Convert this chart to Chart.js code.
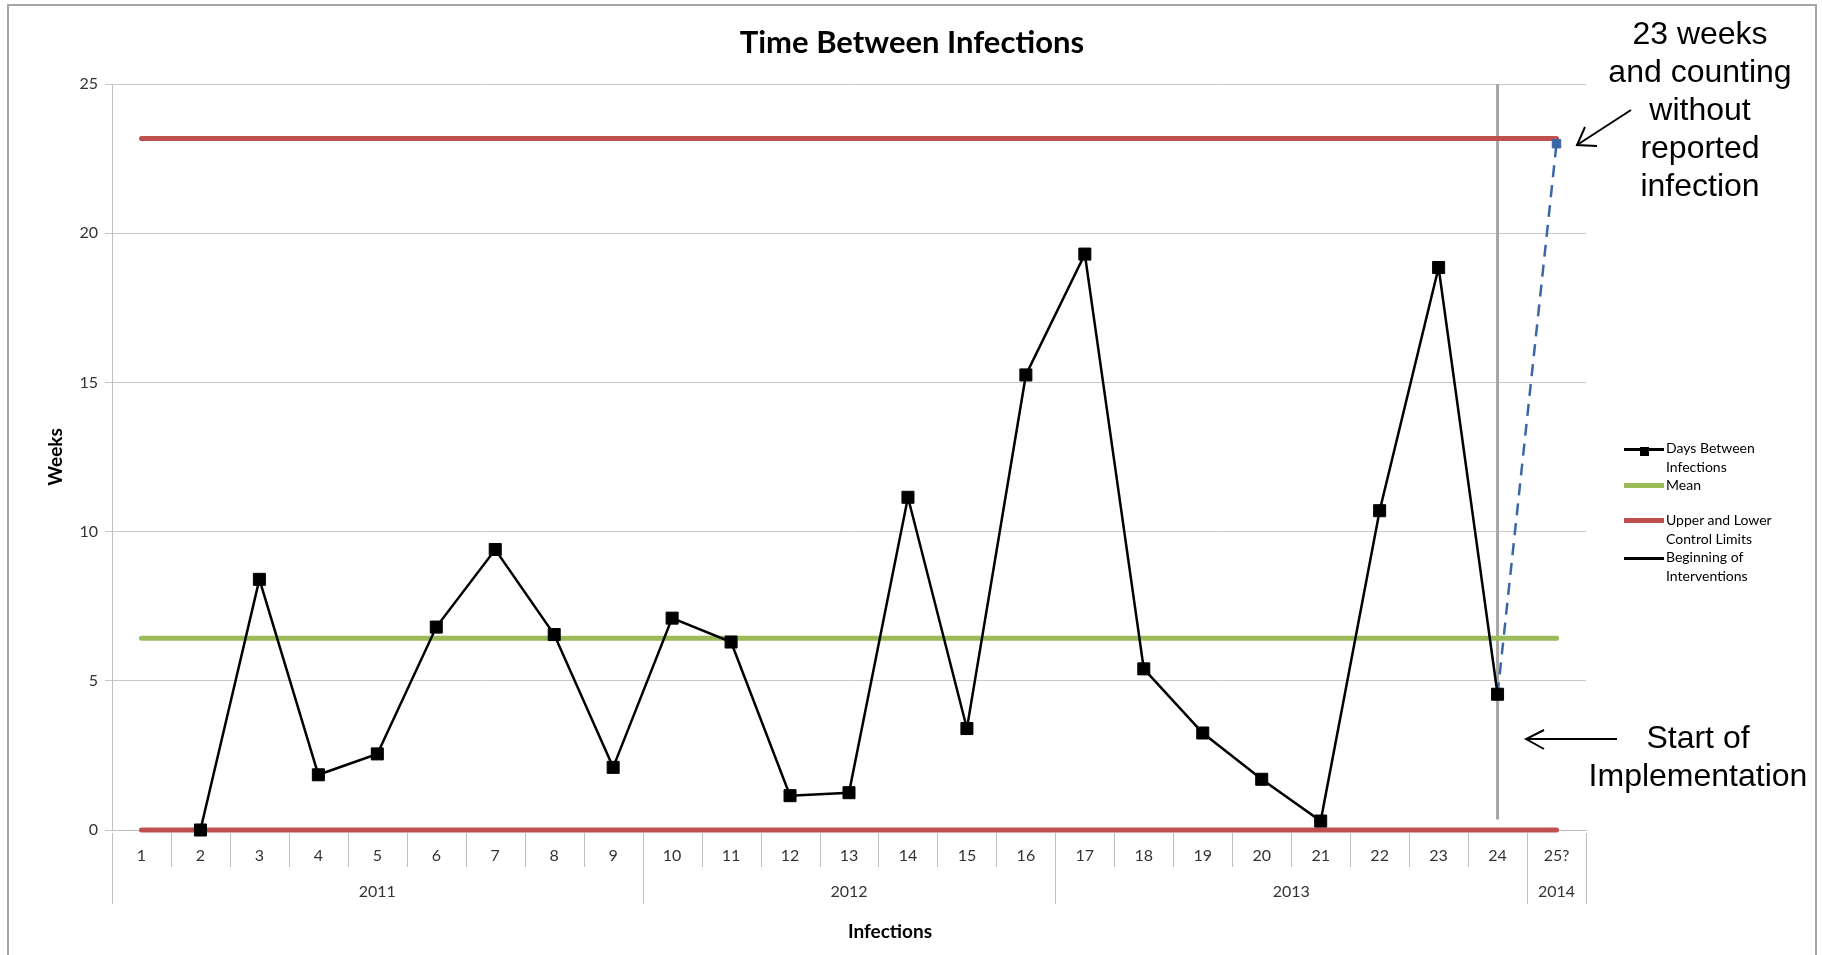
<!DOCTYPE html>
<html>
<head>
<meta charset="utf-8">
<title>Time Between Infections</title>
<script src="https://cdn.jsdelivr.net/npm/chart.js@4.4.1/dist/chart.umd.min.js"></script>
<style>
  html, body { margin: 0; padding: 0; background: #fff; overflow: hidden; }
  #wrap { position: relative; width: 1822px; height: 955px; }
  #frame { position: absolute; left: 7px; top: 4px; width: 1806px; height: 1000px; border: 2px solid #a6a6a6; }
  canvas { position: absolute; left: 0; top: 0; }
  .txt { position: absolute; white-space: nowrap; color: #000; }
  #title { left: 912px; top: 41px; transform: translate(-50%, -50%); font: bold 31px Lato, sans-serif; }
  #xtitle { left: 890px; top: 930px; transform: translate(-50%, -50%); font: bold 19px Lato, sans-serif; }
  .note { font: 32px "Liberation Sans", Arial, sans-serif; text-align: center; line-height: 38px; transform: translateX(-50%); }
  #legend { position: absolute; left: 1624px; top: 439px; font: 14px Lato, sans-serif; line-height: 18.5px; color: #000; }
  #legend .item { position: relative; padding-left: 42px; margin-bottom: 0; }
  #legend .swatch { position: absolute; left: 0; top: 9px; width: 40px; }
  #legend .dot { position: absolute; left: 16px; top: -4px; width: 9px; height: 9px; background: #000; }
</style>
</head>
<body>
<div id="wrap">
  <div id="frame"></div>
  <canvas id="myChart" width="1822" height="955"></canvas>
  <div class="txt" id="title">Time Between Infections</div>
  <div class="txt" id="xtitle">Infections</div>
  <div class="txt note" style="left:1700px; top:14px;">23 weeks<br>and counting<br>without<br>reported<br>infection</div>
  <div class="txt note" style="left:1698px; top:718px;">Start of<br>Implementation</div>
  <svg width="1822" height="955" style="position:absolute; left:0; top:0;">
    <g stroke="#000" stroke-width="2" fill="none">
      <line x1="1631" y1="110" x2="1577" y2="145" />
      <polyline points="1585,127 1577,145 1597,146" />
      <line x1="1617" y1="739" x2="1526" y2="739" />
      <polyline points="1544,730 1526,739 1544,749" />
    </g>
  </svg>
  <div id="legend">
    <div class="item" style="height:37px;"><div class="swatch" style="border-top:3px solid #000;"><div class="dot"></div></div>Days Between<br>Infections</div>
    <div class="item" style="height:35px;"><div class="swatch" style="border-top:5px solid #9bbb59; top:7px;"></div>Mean</div>
    <div class="item" style="height:37px;"><div class="swatch" style="border-top:5px solid #c0504d; top:7px;"></div>Upper and Lower<br>Control Limits</div>
    <div class="item"><div class="swatch" style="border-top:3px solid #000;"></div>Beginning of<br>Interventions</div>
  </div>
</div>

<script>
/* data */
const infections = ['1', '2', '3', '4', '5', '6', '7', '8', '9', '10', '11', '12', '13',
  '14', '15', '16', '17', '18', '19', '20', '21', '22', '23', '24', '25?'];
const years = ['2011', '2012', '2013', '2014'];
const yearSpans = [9, 7, 8, 1];
const weeksBetween = [null, 0, 8.4, 1.85, 2.55, 6.8, 9.4, 6.55, 2.1, 7.1, 6.3, 1.15, 1.25,
  11.15, 3.4, 15.25, 19.3, 5.4, 3.25, 1.7, 0.3, 10.7, 18.85, 4.55, null];
const projected = [null, null, null, null, null, null, null, null, null, null, null, null, null,
  null, null, null, null, null, null, null, null, null, null, 4.55, 23];
const meanValue = 6.43;
const upperLimit = 23.17;
const lowerLimit = 0;
const interventionStart = '24';
const interventionSpan = [25, 0.35];

const meanLine = infections.map(() => meanValue);
const upperLine = infections.map(() => upperLimit);
const lowerLine = infections.map(() => lowerLimit);

/* year row under the category labels */
const yearRow = {
  id: 'yearRow',
  afterDraw(chart) {
    const ctx = chart.ctx;
    const xs = chart.scales.x;
    const y0 = chart.chartArea.bottom;
    const step = xs.getPixelForValue(1) - xs.getPixelForValue(0);
    const edge = (i) => xs.getPixelForValue(0) - step / 2 + i * step;
    const groupEnds = [];
    let n = 0;
    yearSpans.forEach((s) => { n += s; groupEnds.push(n); });

    ctx.save();
    ctx.strokeStyle = '#bfbfbf';
    ctx.lineWidth = 1;
    for (let i = 0; i <= infections.length; i++) {
      const long = i === 0 || groupEnds.includes(i);
      const x = Math.round(edge(i)) + 0.5;
      ctx.beginPath();
      ctx.moveTo(x, y0 + 3);
      ctx.lineTo(x, y0 + (long ? 74 : 37));
      ctx.stroke();
    }
    ctx.fillStyle = '#333';
    ctx.font = '16px Lato, sans-serif';
    ctx.textAlign = 'center';
    ctx.textBaseline = 'middle';
    let start = 0;
    years.forEach((yr, k) => {
      const mid = (edge(start) + edge(start + yearSpans[k])) / 2;
      ctx.fillText(yr, mid, y0 + 62);
      start += yearSpans[k];
    });
    ctx.restore();
  }
};

let ctx = document.querySelector('#myChart').getContext('2d');
let myChart = new Chart(ctx, {
  type: 'line',
  data: {
    labels: infections,
    datasets: [
      {
        label: 'Beginning of Interventions',
        data: interventionSpan.map((v) => ({ x: interventionStart, y: v })),
        borderColor: '#a6a6a6',
        borderWidth: 3,
        pointRadius: 0,
        order: 5,
      },
      {
        label: 'Mean',
        data: meanLine,
        borderColor: '#9bbb59',
        borderWidth: 5,
        borderCapStyle: 'round',
        pointRadius: 0,
        order: 4,
      },
      {
        label: 'Upper Control Limit',
        data: upperLine,
        borderColor: '#c0504d',
        borderWidth: 5,
        borderCapStyle: 'round',
        pointRadius: 0,
        order: 3,
      },
      {
        label: 'Lower Control Limit',
        data: lowerLine,
        borderColor: '#c0504d',
        borderWidth: 5,
        borderCapStyle: 'round',
        pointRadius: 0,
        clip: false,
        order: 3,
      },
      {
        label: 'Projected',
        data: projected,
        borderColor: '#3b67a5',
        backgroundColor: '#3b67a5',
        borderWidth: 2.5,
        borderDash: [12, 8],
        pointStyle: 'rect',
        pointRadius: projected.map((v, i) => (i === projected.length - 1 ? 6 : 0)),
        pointBorderWidth: 1,
        order: 2,
      },
      {
        label: 'Days Between Infections',
        data: weeksBetween,
        borderColor: '#000',
        backgroundColor: '#000',
        borderWidth: 2.5,
        pointStyle: 'rect',
        pointRadius: 8.5,
        pointBorderWidth: 1,
        clip: false,
        order: 1,
      },
    ]
  },
  options: {
    responsive: false,
    animation: false,
    devicePixelRatio: 1,
    layout: { padding: { top: 84, right: 236, bottom: 0, left: 0 } },
    plugins: {
      legend: { display: false },
      title: { display: false },
      tooltip: { enabled: false },
    },
    scales: {
      x: {
        offset: true,
        grid: { display: false },
        border: { display: true, color: '#bfbfbf' },
        ticks: {
          autoSkip: false,
          maxRotation: 0,
          padding: 8,
          color: '#333',
          font: { family: 'Lato', size: 16 },
        },
        afterFit: (s) => { s.height = 125; },
      },
      y: {
        min: 0,
        max: 25,
        grid: { color: '#c8c8c8', tickLength: 7 },
        border: { color: '#bfbfbf' },
        ticks: {
          stepSize: 5,
          padding: 7,
          color: '#333',
          font: { family: 'Lato', size: 16 },
        },
        title: {
          display: true,
          text: 'Weeks',
          color: '#000',
          font: { family: 'Lato', size: 19, weight: 'bold' },
          padding: { top: 44, bottom: 0 },
        },
        afterFit: (s) => { s.width = 112; },
      }
    }
  },
  plugins: [yearRow],
});
</script>
</body>
</html>
